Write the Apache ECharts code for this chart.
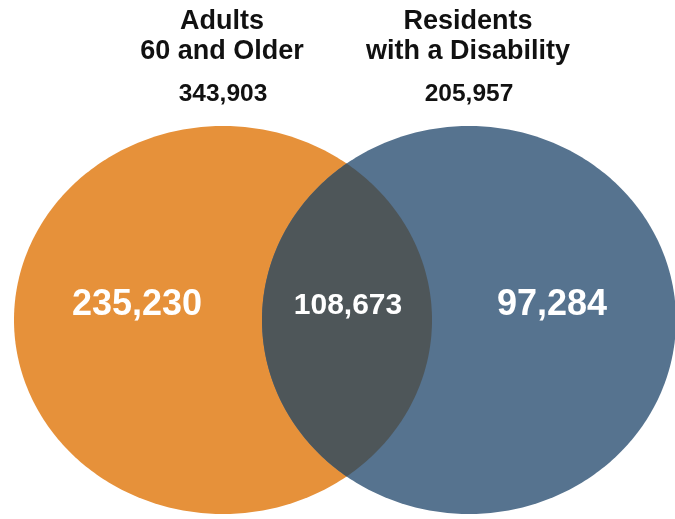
<!DOCTYPE html>
<html>
<head>
<meta charset="utf-8">
<script src="https://cdn.jsdelivr.net/npm/echarts@6/dist/echarts.min.js"></script>
<style>
html,body{margin:0;padding:0;background:#fff;}
#chart{width:675px;height:519px;}
</style>
</head>
<body>
<div id="chart"></div>
<script>
// ---- data ----
const setNames = ['Adults\n60 and Older', 'Residents\nwith a Disability'];
const setTotals = [343903, 205957];
const exclusiveCounts = [235230, 97284];
const overlapCounts = [108673];

// ---- layout / style (not data) ----
const setColors = ['#E6913A', '#56738F'];
const overlapColor = '#4E5659';
const ellipses = [
  { cx: 223, cy: 320, rx: 209, ry: 194, labelX: 137 },
  { cx: 469, cy: 320, rx: 207, ry: 194, labelX: 552 }
];
const FONT = '"Liberation Sans", Arial, Helvetica, sans-serif';

function fmt(n) { return n.toLocaleString('en-US'); }

function renderItem(params, api) {
  const children = [];
  const toPx = (x, y) => api.coord([x, y]);
  // ellipses
  ellipses.forEach((e, i) => {
    const pts = [];
    for (let k = 0; k < 360; k++) {
      const t = k / 360 * Math.PI * 2;
      pts.push(toPx(e.cx + e.rx * Math.cos(t), e.cy + e.ry * Math.sin(t)));
    }
    children.push({ type: 'polygon', shape: { points: pts }, style: { fill: setColors[i] } });
  });
  // overlap lens
  const a = ellipses[0], b = ellipses[1];
  const xi = (a.cx * b.rx + b.cx * a.rx) / (a.rx + b.rx);
  const ta = Math.acos((xi - a.cx) / a.rx);
  const tb = Math.acos((xi - b.cx) / b.rx);
  const lens = [];
  const N = 120;
  for (let k = 0; k <= N; k++) {
    const t = -tb - (2 * Math.PI - 2 * tb) * k / N;
    lens.push(toPx(b.cx + b.rx * Math.cos(t), b.cy + b.ry * Math.sin(t)));
  }
  for (let k = 0; k <= N; k++) {
    const t = ta - 2 * ta * k / N;
    lens.push(toPx(a.cx + a.rx * Math.cos(t), a.cy + a.ry * Math.sin(t)));
  }
  children.push({ type: 'polygon', shape: { points: lens }, style: { fill: overlapColor } });

  // headers and totals
  ellipses.forEach((e, i) => {
    const p = toPx(e.cx - 1, 37);
    children.push({
      type: 'text', x: p[0], y: p[1],
      style: { text: setNames[i], fill: '#111', font: 'bold 27px ' + FONT, align: 'center', verticalAlign: 'middle', lineHeight: 30 }
    });
    const q = toPx(e.cx, 94);
    children.push({
      type: 'text', x: q[0], y: q[1],
      style: { text: fmt(setTotals[i]), fill: '#111', font: 'bold 24.5px ' + FONT, align: 'center', verticalAlign: 'middle' }
    });
    const r = toPx(e.labelX, 305);
    children.push({
      type: 'text', x: r[0], y: r[1],
      style: { text: fmt(exclusiveCounts[i]), fill: '#fff', font: 'bold 36px ' + FONT, align: 'center', verticalAlign: 'middle' }
    });
  });
  const o = toPx(348, 306);
  children.push({
    type: 'text', x: o[0], y: o[1],
    style: { text: fmt(overlapCounts[0]), fill: '#fff', font: 'bold 30px ' + FONT, align: 'center', verticalAlign: 'middle' }
  });
  return { type: 'group', children: children };
}

const chart = echarts.init(document.getElementById('chart'), null, { renderer: 'canvas' });
chart.setOption({
  animation: false,
  backgroundColor: '#fff',
  grid: { left: 0, right: 0, top: 0, bottom: 0 },
  xAxis: { type: 'value', min: 0, max: 675, show: false },
  yAxis: { type: 'value', min: 0, max: 519, inverse: true, show: false },
  series: [{
    type: 'custom',
    coordinateSystem: 'cartesian2d',
    clip: true,
    data: [[0, 0]],
    renderItem: renderItem
  }]
});
</script>
</body>
</html>
